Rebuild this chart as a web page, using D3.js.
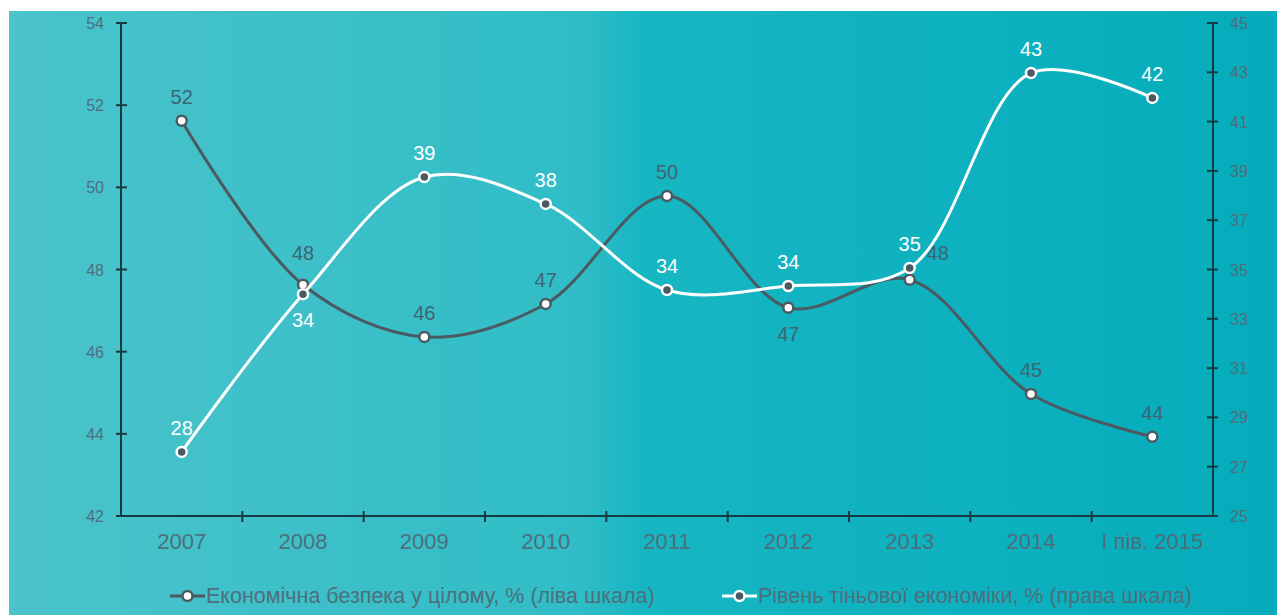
<!DOCTYPE html>
<html lang="uk">
<head>
  <meta charset="utf-8">
  <title>Економічна безпека та тіньова економіка</title>
  <script src="https://d3js.org/d3.v7.min.js"></script>
  <style>
    body { margin: 0; background: #fff; }
    svg { display: block; font-family: "Liberation Sans", Arial, sans-serif; }
  </style>
</head>
<body>
<script>
// data
var years = ["2007", "2008", "2009", "2010", "2011", "2012", "2013", "2014", "І пів. 2015"];
var security = [51.62, 47.63, 46.36, 47.16, 49.79, 47.07, 47.75, 44.97, 43.93];   // left scale
var shadow = [27.6, 34.0, 38.75, 37.66, 34.17, 34.33, 35.06, 42.97, 41.96];        // right scale
var securityLabels = ["52", "48", "46", "47", "50", "47", "48", "45", "44"];
var shadowLabels = ["28", "34", "39", "38", "34", "34", "35", "43", "42"];
var securityLabelPos = ["up", "up2", "up", "up", "up", "down", "right", "up", "up"];
var shadowLabelPos = ["up", "down", "up", "up", "up", "up", "up", "up", "up"];
var leftTicks = [42, 44, 46, 48, 50, 52, 54];
var rightTicks = [25, 27, 29, 31, 33, 35, 37, 39, 41, 43, 45];
var legendNames = ["Економічна безпека у цілому, % (ліва шкала)", "Рівень тіньової економіки, % (права шкала)"];

var W = 1277, H = 615;
var darkLine = "#4b5961", axisCol = "#173a42", labelCol = "#3d6575", tickCol = "#4d6f7c";

var svg = d3.select("body").append("svg")
  .attr("width", W)
  .attr("height", H);

var grad = svg.append("defs").append("linearGradient")
  .attr("id", "bg").attr("x1", "0%").attr("x2", "100%");
grad.append("stop").attr("offset", "0%").attr("stop-color", "#4bc3ca");
grad.append("stop").attr("offset", "45%").attr("stop-color", "#30bdc7");
grad.append("stop").attr("offset", "50%").attr("stop-color", "#17b6c3");
grad.append("stop").attr("offset", "100%").attr("stop-color", "#05acbb");

svg.append("rect")
  .attr("x", 9).attr("y", 11)
  .attr("width", W - 9).attr("height", H - 11)
  .attr("fill", "url(#bg)");

var plotL = 121, plotR = 1213, plotT = 23, plotB = 516;

var x = d3.scaleBand().domain(years).range([plotL, plotR]).padding(0);
var yL = d3.scaleLinear().domain([42, 54]).range([plotB, plotT]);
var yR = d3.scaleLinear().domain([25, 45]).range([plotB, plotT]);

// axes lines
var ax = svg.append("g").attr("stroke", axisCol).attr("stroke-width", 2);
ax.append("line").attr("x1", plotL).attr("x2", plotL).attr("y1", plotT).attr("y2", plotB);
ax.append("line").attr("x1", plotR).attr("x2", plotR).attr("y1", plotT).attr("y2", plotB);
ax.append("line").attr("x1", plotL).attr("x2", plotR).attr("y1", plotB).attr("y2", plotB);

ax.selectAll(".tl").data(leftTicks).enter().append("line")
  .attr("x1", plotL - 5).attr("x2", plotL + 6)
  .attr("y1", function (d) { return yL(d); })
  .attr("y2", function (d) { return yL(d); });
ax.selectAll(".tr").data(rightTicks).enter().append("line")
  .attr("x1", plotR - 6).attr("x2", plotR + 5)
  .attr("y1", function (d) { return yR(d); })
  .attr("y2", function (d) { return yR(d); });
ax.selectAll(".tx").data(years.slice(1)).enter().append("line")
  .attr("x1", function (d) { return x(d); })
  .attr("x2", function (d) { return x(d); })
  .attr("y1", plotB - 5).attr("y2", plotB + 6);

// tick labels
svg.selectAll(".ltl").data(leftTicks).enter().append("text")
  .attr("x", plotL - 17)
  .attr("y", function (d) { return yL(d) + 6; })
  .attr("text-anchor", "end")
  .attr("font-size", 16)
  .attr("fill", tickCol)
  .text(function (d) { return d; });
svg.selectAll(".rtl").data(rightTicks).enter().append("text")
  .attr("x", plotR + 17)
  .attr("y", function (d) { return yR(d) + 6; })
  .attr("font-size", 16)
  .attr("fill", tickCol)
  .text(function (d) { return d; });
svg.selectAll(".xtl").data(years).enter().append("text")
  .attr("x", function (d) { return x(d) + x.bandwidth() / 2; })
  .attr("y", plotB + 33)
  .attr("text-anchor", "middle")
  .attr("font-size", 22)
  .attr("fill", tickCol)
  .text(function (d) { return d; });

var cx = function (d, i) { return x(years[i]) + x.bandwidth() / 2; };
var curve = d3.curveCatmullRom.alpha(0.5);

function series(vals, scale, stroke, ptFill, ptStroke, labels, pos, lblCol) {
  var line = d3.line()
    .x(function (d, i) { return cx(d, i); })
    .y(function (d) { return scale(d); })
    .curve(curve);
  svg.append("path")
    .datum(vals)
    .attr("d", line)
    .attr("fill", "none")
    .attr("stroke", stroke)
    .attr("stroke-width", 3);
  svg.append("g").selectAll("circle").data(vals).enter().append("circle")
    .attr("cx", cx)
    .attr("cy", function (d) { return scale(d); })
    .attr("r", 5)
    .attr("fill", ptFill)
    .attr("stroke", ptStroke)
    .attr("stroke-width", 2.5);
  svg.append("g").selectAll("text").data(vals).enter().append("text")
    .attr("x", function (d, i) { return cx(d, i) + (pos[i] === "right" ? 28 : 0); })
    .attr("y", function (d, i) {
      if (pos[i] === "down") return scale(d) + 33;
      if (pos[i] === "right") return scale(d) - 20;
      if (pos[i] === "up2") return scale(d) - 25;
      return scale(d) - 17;
    })
    .attr("text-anchor", "middle")
    .attr("font-size", 20)
    .attr("fill", lblCol)
    .text(function (d, i) { return labels[i]; });
}

series(security, yL, darkLine, "#fff", darkLine, securityLabels, securityLabelPos, labelCol);
series(shadow, yR, "#fff", darkLine, "#fff", shadowLabels, shadowLabelPos, "#fff");

// legend
var legend = [
  { name: legendNames[0], x: 170, stroke: darkLine, fill: "#fff" },
  { name: legendNames[1], x: 722, stroke: "#fff", fill: darkLine }
];
var lg = svg.selectAll(".lg").data(legend).enter().append("g")
  .attr("transform", function (d) { return "translate(" + d.x + ",596)"; });
lg.append("line")
  .attr("x1", 0).attr("x2", 35).attr("y1", 0).attr("y2", 0)
  .attr("stroke", function (d) { return d.stroke; })
  .attr("stroke-width", 3);
lg.append("circle")
  .attr("cx", 17.5).attr("cy", 0).attr("r", 5)
  .attr("fill", function (d) { return d.fill; })
  .attr("stroke", function (d) { return d.stroke; })
  .attr("stroke-width", 2.5);
lg.append("text")
  .attr("x", 36).attr("y", 7)
  .attr("font-size", 21.5)
  .attr("fill", tickCol)
  .text(function (d) { return d.name; });
</script>
</body>
</html>
